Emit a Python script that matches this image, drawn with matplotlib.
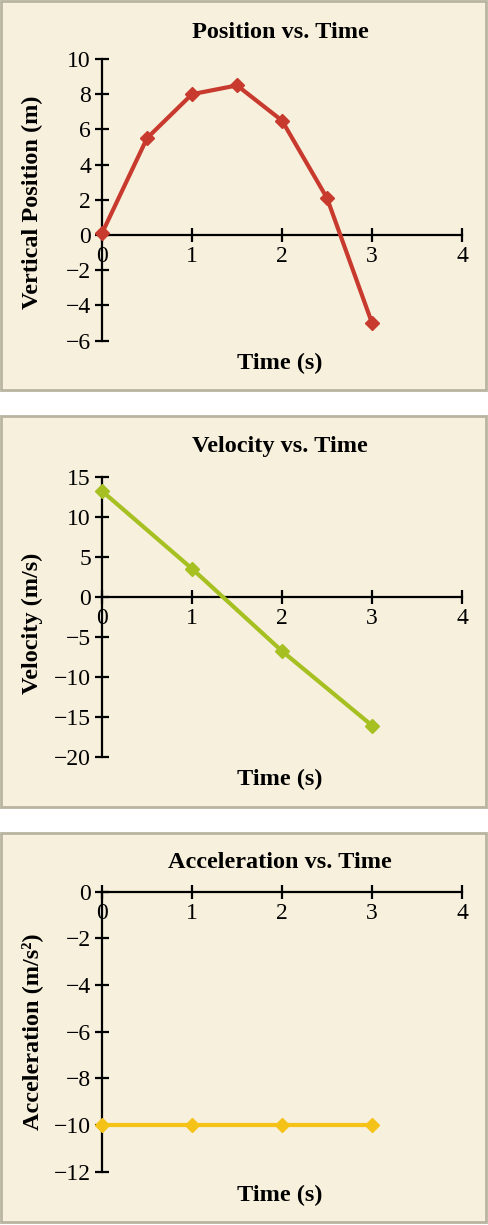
import matplotlib
matplotlib.use("Agg")
import matplotlib.pyplot as plt
from matplotlib.patches import Rectangle

# data
t_pos = [0, 0.5, 1, 1.5, 2, 2.5, 3]
position = [0.1, 5.5, 8.0, 8.5, 6.5, 2.1, -5.0]

t_vel = [0, 1, 2, 3]
velocity = [13.2, 3.5, -6.8, -16.1]

t_acc = [0, 1, 2, 3]
acceleration = [-10.0, -10.0, -10.0, -10.0]

x_ticks = [0, 1, 2, 3, 4]
pos_ticks = [10, 8, 6, 4, 2, 0, -4, -6, -2]
vel_ticks = [15, 10, 5, 0, -5, -10, -15, -20]
acc_ticks = [0, -2, -4, -6, -8, -10, -12]

W, H = 488, 1225
BG = "#f7f0dc"
EDGE = "#b9b4a0"
plt.rcParams['font.family'] = ['Liberation Serif', 'DejaVu Serif']
plt.rcParams['axes.unicode_minus'] = True

fig = plt.figure(figsize=(W / 100, H / 100), dpi=100)
fig.patch.set_facecolor("white")


def fx(px):
    return px / W


def fy(py):
    return 1 - py / H


def panel(top, bottom):
    fig.patches.append(Rectangle((fx(1), fy(bottom)), fx(485), (bottom - top) / H,
                                 transform=fig.transFigure, facecolor=BG,
                                 edgecolor=EDGE, linewidth=2, zorder=-5))


def make_axes(y_top, y_bot, ylim, yticks, title, ylabel, title_y, xlabel_y, ylabel_y):
    ax = fig.add_axes([fx(102), fy(y_bot), fx(360), (y_bot - y_top) / H])
    ax.set_facecolor("none")
    ax.set_xlim(0, 4)
    ax.set_ylim(*ylim)
    for s in ["top", "right"]:
        ax.spines[s].set_visible(False)
    ax.spines["left"].set_position(("data", 0))
    ax.spines["bottom"].set_position(("data", 0))
    for s in ["left", "bottom"]:
        ax.spines[s].set_linewidth(1.6)
    ax.set_xticks(x_ticks)
    ax.set_yticks(yticks)
    ax.tick_params(direction="inout", length=10, width=1.6, labelsize=17, pad=3)
    fig.text(fx(280), fy(title_y), title, ha="center", va="center",
             fontsize=17.5, fontweight="bold")
    fig.text(fx(280), fy(xlabel_y), "Time (s)", ha="center", va="center",
             fontsize=17.5, fontweight="bold")
    fig.text(fx(32), fy(ylabel_y), ylabel, ha="center", va="center",
             rotation=90, fontsize=17.5, fontweight="bold")
    return ax


panel(1, 390)
panel(416, 807)
panel(833, 1222)

ax1 = make_axes(59, 340.6, (-6, 10), pos_ticks, "Position vs. Time",
                "Vertical Position (m)", 32, 363, 202)
ax1.plot(t_pos, position, color="#c8392e", lw=3, marker="D", ms=7, clip_on=False, zorder=3)

ax2 = make_axes(476.7, 756.7, (-20, 15), vel_ticks, "Velocity vs. Time",
                "Velocity (m/s)", 447, 779, 623)
ax2.plot(t_vel, velocity, color="#a5c020", lw=3, marker="D", ms=7, clip_on=False, zorder=3)

ax3 = make_axes(891.7, 1171.7, (-12, 0), acc_ticks, "Acceleration vs. Time",
                "Acceleration (m/s²)", 863, 1195, 1032)
ax3.plot(t_acc, acceleration, color="#f5c218", lw=3, marker="D", ms=7, clip_on=False, zorder=3)

fig.savefig("out.png", dpi=100)
